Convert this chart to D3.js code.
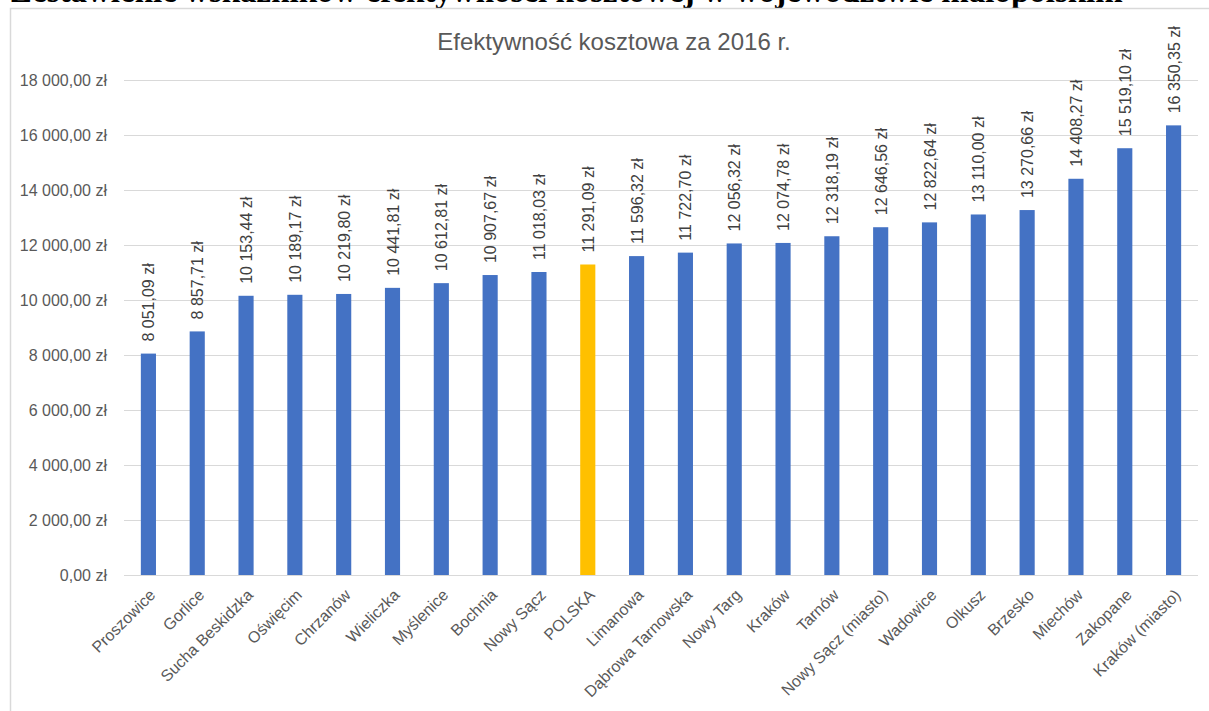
<!DOCTYPE html>
<html>
<head>
<meta charset="utf-8">
<script src="https://cdn.jsdelivr.net/npm/d3@7"></script>
<style>
  body { margin: 0; background: #fff; }
  svg { display: block; }
</style>
</head>
<body>
<div id="bar-chart"></div>
<script>
const categories = ["Proszowice", "Gorlice", "Sucha Beskidzka", "Oświęcim", "Chrzanów", "Wieliczka",
  "Myślenice", "Bochnia", "Nowy Sącz", "POLSKA", "Limanowa", "Dąbrowa Tarnowska", "Nowy Targ",
  "Kraków", "Tarnów", "Nowy Sącz (miasto)", "Wadowice", "Olkusz", "Brzesko", "Miechów",
  "Zakopane", "Kraków (miasto)"];
const values = [8051.09, 8857.71, 10153.44, 10189.17, 10219.80, 10441.81, 10612.81, 10907.67,
  11018.03, 11291.09, 11596.32, 11722.70, 12056.32, 12074.78, 12318.19, 12646.56, 12822.64,
  13110.00, 13270.66, 14408.27, 15519.10, 16350.35];
const highlight = "POLSKA";
const yTicks = [0, 2000, 4000, 6000, 8000, 10000, 12000, 14000, 16000, 18000];
const pageTitle = "Zestawienie wskaźników efektywności kosztowej w województwie małopolskim";
const chartTitle = "Efektywność kosztowa za 2016 r.";

const width = 1209, height = 711;
const margin = { top: 80, right: 11, bottom: 136, left: 124 };
const innerWidth = width - margin.left - margin.right;
const innerHeight = height - margin.top - margin.bottom;

// "8 051,09 zł"
const fmt = v => {
  const [i, d] = v.toFixed(2).split(".");
  return i.replace(/\B(?=(\d{3})+(?!\d))/g, "\u00a0") + "," + d + " zł";
};

const data = categories.map((c, i) => ({ name: c, value: values[i] }));

const svg = d3.select("#bar-chart").append("svg")
  .attr("width", width).attr("height", height);

// page heading, mostly cut off by the top edge
svg.append("text")
  .attr("x", 10).attr("y", 2)
  .style("font-family", "'Liberation Serif', serif")
  .style("font-weight", "bold")
  .style("font-size", "33px")
  .attr("fill", "#000")
  .text(pageTitle);

// chart frame
svg.append("path")
  .attr("d", `M10.5,${height} V8.5 H${width}`)
  .attr("fill", "none").attr("stroke", "#d9d9d9").attr("stroke-width", 1.5);

svg.append("text")
  .attr("x", 614).attr("y", 50)
  .attr("text-anchor", "middle")
  .style("font-family", "'Liberation Sans', sans-serif")
  .style("font-size", "24px")
  .attr("fill", "#595959")
  .text(chartTitle);

const inner = svg.append("g").attr("transform", `translate(${margin.left},${margin.top})`);

const x = d3.scaleBand().domain(categories).range([0, innerWidth]).paddingInner(0.69).paddingOuter(0.345);
const y = d3.scaleLinear().domain([0, 18000]).range([innerHeight, 0]);

// gridlines + y labels
const yAxis = inner.append("g")
  .call(d3.axisLeft(y).tickValues(yTicks).tickSize(-innerWidth).tickPadding(17).tickFormat(fmt));
yAxis.select(".domain").remove();
yAxis.selectAll("line").attr("stroke", "#d9d9d9").attr("stroke-width", 1.2);
yAxis.selectAll("text")
  .style("font-family", "'Liberation Sans', sans-serif")
  .style("font-size", "16px")
  .attr("fill", "#595959");

// x labels
const xAxis = inner.append("g")
  .attr("transform", `translate(0,${innerHeight})`)
  .call(d3.axisBottom(x).tickSize(0).tickPadding(0));
xAxis.select(".domain").remove();
xAxis.selectAll("text")
  .style("font-family", "'Liberation Sans', sans-serif")
  .style("font-size", "16px")
  .attr("fill", "#595959")
  .attr("text-anchor", "end")
  .attr("dy", "0")
  .attr("transform", "translate(8,21) rotate(-45)");

// bars
inner.selectAll("rect.bar")
  .data(data)
  .join("rect")
  .attr("class", "bar")
  .attr("x", d => x(d.name))
  .attr("y", d => y(d.value))
  .attr("width", x.bandwidth())
  .attr("height", d => innerHeight - y(d.value))
  .attr("fill", d => d.name === highlight ? "#FFC000" : "#4472C4");

// value labels
inner.selectAll("text.val")
  .data(data)
  .join("text")
  .attr("class", "val")
  .attr("transform", d => `translate(${x(d.name) + x.bandwidth() / 2 + 6},${y(d.value) - 12}) rotate(-90)`)
  .style("font-family", "'Liberation Sans', sans-serif")
  .style("font-size", "16px")
  .attr("fill", "#404040")
  .text(d => fmt(d.value));
</script>
</body>
</html>
